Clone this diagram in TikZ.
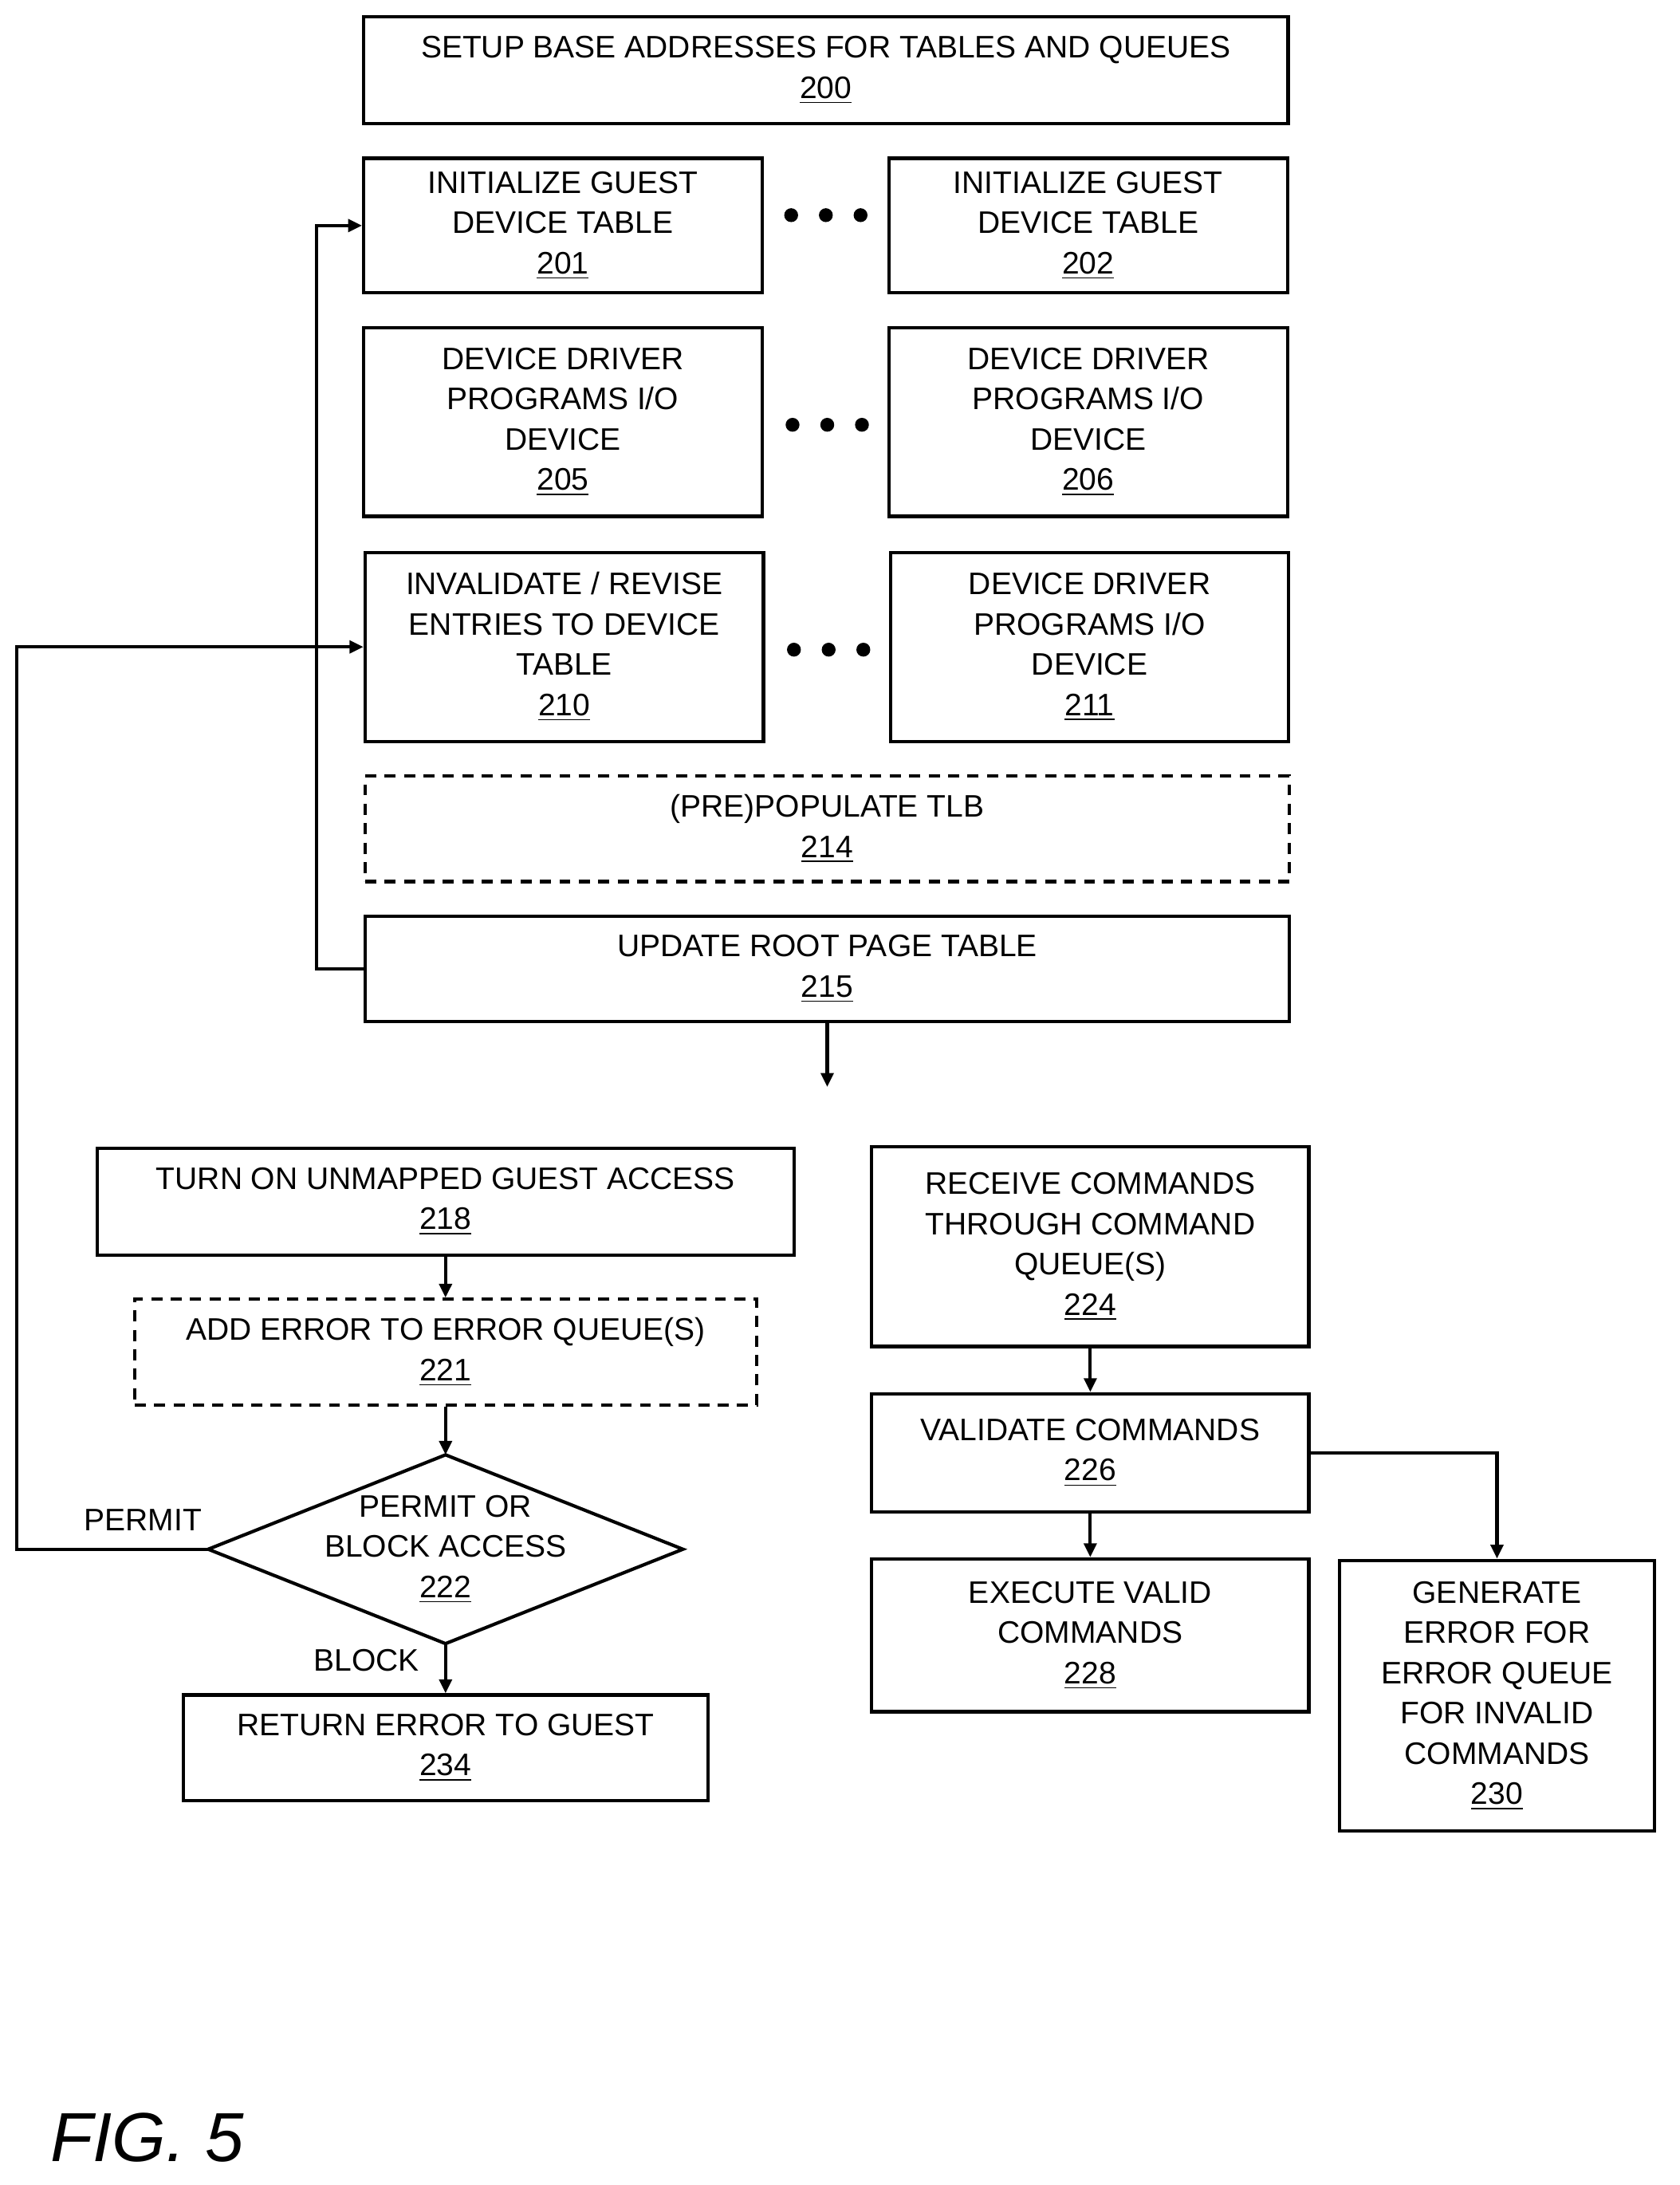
\documentclass[tikz,border=0pt]{standalone}
\usepackage{fontspec}
\setmainfont{Liberation Sans}
\usetikzlibrary{arrows.meta}
\begin{document}
\begin{tikzpicture}[x=0.5pt,y=-0.5pt,
 box/.style={draw,line width=1.2pt,align=center,inner sep=0pt,font=\fontsize{11.2}{14.5}\selectfont},
 dbox/.style={box,dash pattern=on 4pt off 3pt},
 lbl/.style={align=center,inner sep=0pt,font=\fontsize{11.2}{14.5}\selectfont},
 arr/.style={line width=1.2pt,-{Triangle[length=5pt,width=4.5pt]}},
 ln/.style={line width=1.2pt},
 dot/.style={fill,circle,inner sep=0pt,minimum size=5pt}]
\useasboundingbox (0,0) rectangle (1210,1574);
\node[box,minimum width=333pt,minimum height=38.5pt] (n200) at (595,50.5) {SETUP BASE ADDRESSES FOR TABLES AND QUEUES\\\underline{200}};
\node[box,minimum width=143.5pt,minimum height=48.5pt] (n201) at (405.5,162.5) {INITIALIZE GUEST\\DEVICE TABLE\\\underline{201}};
\node[box,minimum width=143.5pt,minimum height=48.5pt] (n202) at (784,162.5) {INITIALIZE GUEST\\DEVICE TABLE\\\underline{202}};
\node[box,minimum width=143.5pt,minimum height=68pt] (n205) at (405.5,304) {DEVICE DRIVER\\PROGRAMS I/O\\DEVICE\\\underline{205}};
\node[box,minimum width=143.5pt,minimum height=68pt] (n206) at (784,304) {DEVICE DRIVER\\PROGRAMS I/O\\DEVICE\\\underline{206}};
\node[box,minimum width=143.5pt,minimum height=68pt] (n210) at (406.5,466) {INVALIDATE / REVISE\\ENTRIES TO DEVICE\\TABLE\\\underline{210}};
\node[box,minimum width=143.5pt,minimum height=68pt] (n211) at (785,466) {DEVICE DRIVER\\PROGRAMS I/O\\DEVICE\\\underline{211}};
\node[dbox,minimum width=333pt,minimum height=38pt] (n214) at (596,597) {(PRE)POPULATE TLB\\\underline{214}};
\node[box,minimum width=333pt,minimum height=38pt] (n215) at (596,698) {UPDATE ROOT PAGE TABLE\\\underline{215}};
\foreach \y/\x in {155/595,306/596,468/597} {
 \node[dot] (d\y a) at (\x-25,\y) {};
 \node[dot] (d\y b) at (\x,\y) {};
 \node[dot] (d\y c) at (\x+25,\y) {};
}
\coordinate (e215) at (596,783);
\draw[arr] (n215.south) -- (e215);
\coordinate (l215) at (228,698);
\draw[arr] (n215.west) -- (l215) |- (n201.west);

\node[box,minimum width=251pt,minimum height=38.5pt] (n218) at (321,865.5) {TURN ON UNMAPPED GUEST ACCESS\\\underline{218}};
\node[dbox,minimum width=224pt,minimum height=38pt] (n221) at (321,974) {ADD ERROR TO ERROR QUEUE(S)\\\underline{221}};
\coordinate (dt) at (321,1048);
\coordinate (dr) at (492,1116);
\coordinate (db) at (321,1184);
\coordinate (dl) at (150,1116);
\draw[ln] (dt) -- (dr) -- (db) -- (dl) -- cycle;
\node[lbl] (n222) at (321,1116) {PERMIT OR\\BLOCK ACCESS\\\underline{222}};
\node[box,minimum width=189pt,minimum height=38pt] (n234) at (321,1259) {RETURN ERROR TO GUEST\\\underline{234}};
\draw[arr] (n218.south) -- (n221.north);
\draw[arr] (n221.south) -- (dt);
\draw[arr] (db) -- (n234.north);
\node[lbl] (blk) at (264,1196) {BLOCK};
\coordinate (pl) at (12,1116);
\draw[arr] (dl) -- (pl) |- (n210.west);
\node[lbl] (prm) at (103,1095) {PERMIT};

\node[box,minimum width=157.5pt,minimum height=72pt] (n224) at (785.5,898) {RECEIVE COMMANDS\\THROUGH COMMAND\\QUEUE(S)\\\underline{224}};
\node[box,minimum width=157.5pt,minimum height=42.5pt] (n226) at (785.5,1046.5) {VALIDATE COMMANDS\\\underline{226}};
\node[box,minimum width=157.5pt,minimum height=55pt] (n228) at (785.5,1178) {EXECUTE VALID\\COMMANDS\\\underline{228}};
\node[box,minimum width=113.5pt,minimum height=97.5pt] (n230) at (1078.5,1221.5) {GENERATE\\ERROR FOR\\ERROR QUEUE\\FOR INVALID\\COMMANDS\\\underline{230}};
\draw[arr] (n224.south) -- (n226.north);
\draw[arr] (n226.south) -- (n228.north);
\draw[arr] (n226.east) -| (n230.north);

\node[inner sep=0pt,font=\fontsize{25}{30}\selectfont\itshape] (fig) at (106,1540) {FIG. 5};
\end{tikzpicture}
\end{document}
